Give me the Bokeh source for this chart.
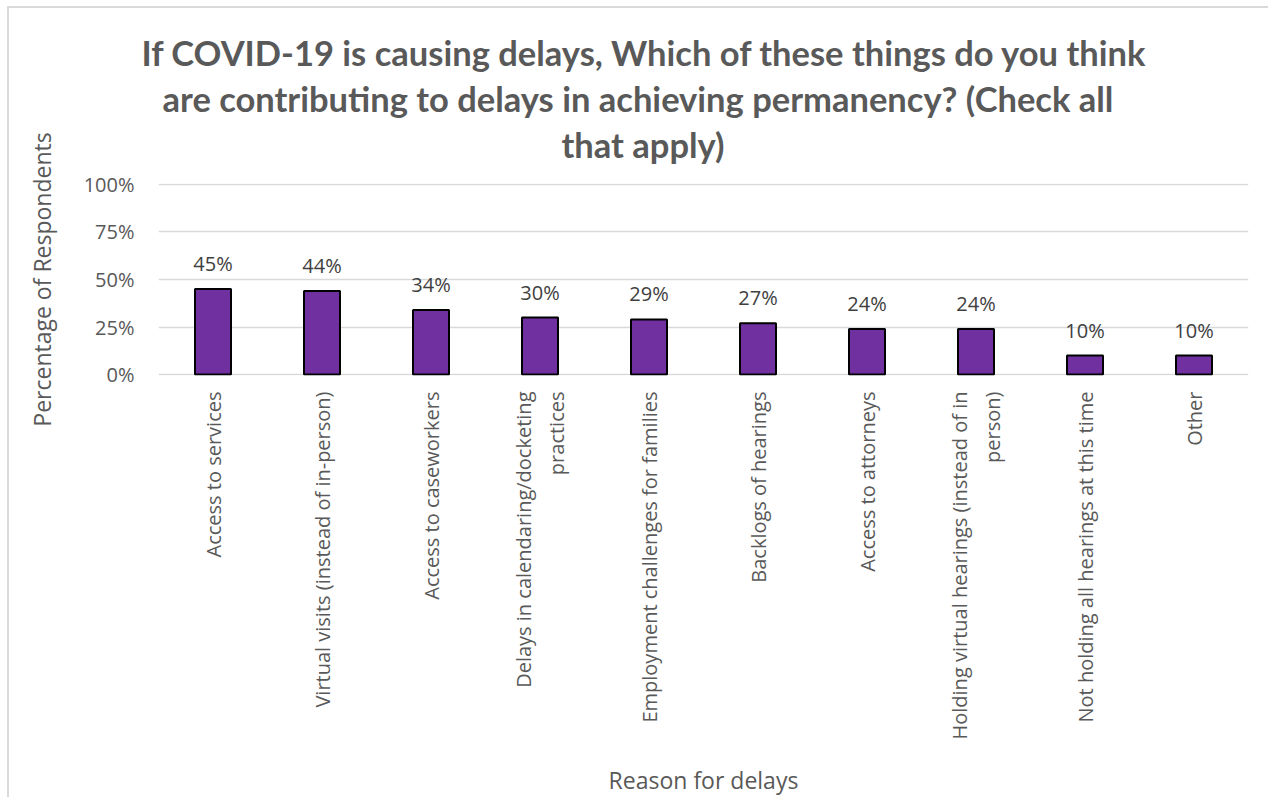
import math
from bokeh.plotting import figure
from bokeh.models import ColumnDataSource, FixedTicker, NumeralTickFormatter, Title
from bokeh.core.properties import value
from bokeh.embed import file_html
from bokeh.resources import INLINE

categories = [
    "Access to services",
    "Virtual visits (instead of in-person)",
    "Access to caseworkers",
    "Delays in calendaring/docketing\npractices",
    "Employment challenges for families",
    "Backlogs of hearings",
    "Access to attorneys",
    "Holding virtual hearings (instead of in\nperson)",
    "Not holding all hearings at this time",
    "Other",
]
values = [0.45, 0.44, 0.34, 0.30, 0.29, 0.27, 0.24, 0.24, 0.10, 0.10]
value_labels = ["45%", "44%", "34%", "30%", "29%", "27%", "24%", "24%", "10%", "10%"]
y_ticks = [0, 0.25, 0.5, 0.75, 1.0]

title_lines = [
    "If COVID-19 is causing delays, Which of these things do you think",
    "are contributing to delays in achieving permanency? (Check all",
    "that apply)",
]
title_offsets = [-17, 4, 403]

src = ColumnDataSource(dict(cat=categories, val=values, lab=value_labels))

p = figure(x_range=categories, y_range=(-0.005, 1.005),
           frame_width=1090, frame_height=192,
           output_backend="svg", toolbar_location=None,
           min_border_left=149, min_border_right=20, min_border_top=175, min_border_bottom=0)
p.title = None
# spacer between the plot frame and the title block
p.add_layout(Title(text=" ", text_font_size="1px", standoff=12), "above")
# bottom title line first (closest to frame)
for line, off in reversed(list(zip(title_lines, title_offsets))):
    t = Title(text=line, align="left", vertical_align="top", text_font="Lato",
              text_font_style="bold", text_font_size="34.5px", text_color="#595959",
              text_line_height=1.2, offset=off, standoff=3)
    p.add_layout(t, "above")

p.vbar(x="cat", top="val", width=0.33, source=src, fill_color="#7030a0",
       line_color="#000000", line_width=2)
p.text(x="cat", y="val", text="lab", source=src, text_align="center", text_baseline="bottom",
       y_offset=-12, text_font_size="20px", text_color="#404040", text_font=value("Open Sans"))

p.outline_line_color = None
p.xgrid.grid_line_color = None
p.ygrid.grid_line_color = "#d9d9d9"
p.ygrid.grid_line_width = 1.5
p.ygrid.ticker = FixedTicker(ticks=y_ticks)

p.yaxis.ticker = FixedTicker(ticks=y_ticks)
p.yaxis.formatter = NumeralTickFormatter(format="0%")
p.yaxis.axis_line_color = None
p.yaxis.major_tick_line_color = None
p.yaxis.minor_tick_line_color = None
p.yaxis.major_label_standoff = 18
p.yaxis.major_label_text_font = "Open Sans"
p.yaxis.major_label_text_font_size = "20px"
p.yaxis.major_label_text_color = "#595959"
p.yaxis.axis_label = "Percentage of Respondents"
p.yaxis.axis_label_text_font = "Open Sans"
p.yaxis.axis_label_text_font_style = "normal"
p.yaxis.axis_label_text_font_size = "23px"
p.yaxis.axis_label_text_color = "#595959"
p.yaxis.axis_label_standoff = 23

p.xaxis.axis_line_color = None
p.xaxis.major_tick_line_color = None
p.xaxis.minor_tick_line_color = None
p.xaxis.major_label_orientation = math.pi / 2
p.xaxis.major_label_standoff = 10
p.xaxis.major_label_text_font = "Open Sans"
p.xaxis.major_label_text_font_size = "20px"
p.xaxis.major_label_text_color = "#595959"
p.xaxis.axis_label = "Reason for delays"
p.xaxis.axis_label_text_font = "Open Sans"
p.xaxis.axis_label_text_font_style = "normal"
p.xaxis.axis_label_text_font_size = "23px"
p.xaxis.axis_label_text_color = "#595959"
p.xaxis.axis_label_standoff = 22

p.styles = {"margin-left": "7px", "margin-top": "6px",
            "border-left": "2px solid #d9d9d9", "border-top": "2px solid #d9d9d9"}

open("out.html", "w").write(file_html(p, INLINE))
